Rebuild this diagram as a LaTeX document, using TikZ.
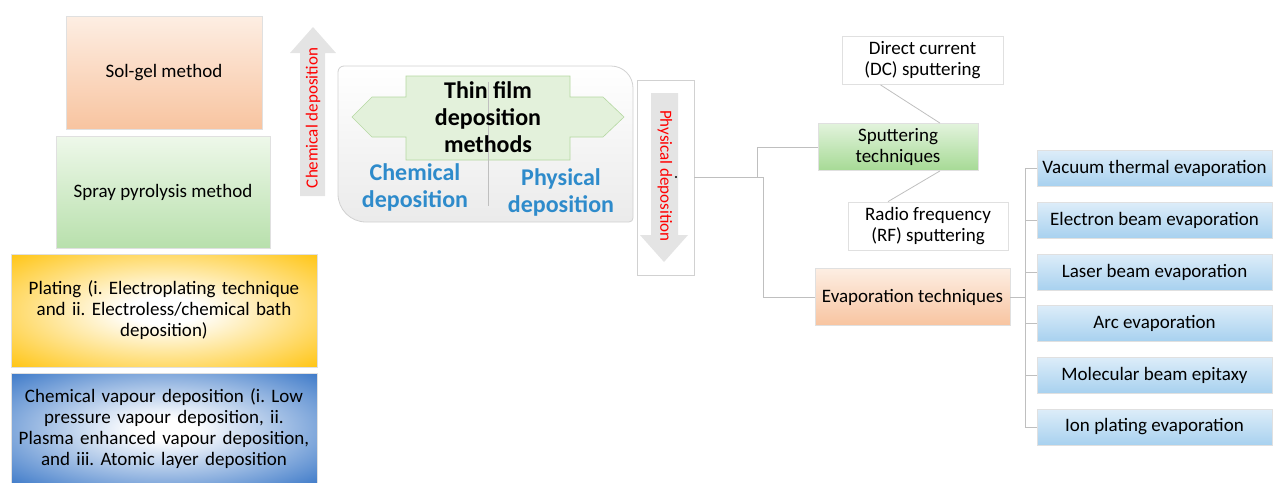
\documentclass[tikz,border=0pt]{standalone}
\usepackage{fontspec}
\setmainfont{Carlito}
\usetikzlibrary{calc}
\frenchspacing

\definecolor{peachTop}{HTML}{FDEEE3}
\definecolor{peachBot}{HTML}{F8C4A0}
\definecolor{greenTop}{HTML}{EEF8EA}
\definecolor{greenBot}{HTML}{B8E0AC}
\definecolor{goldEdge}{HTML}{FFC000}
\definecolor{blueEdge}{HTML}{2E6FC4}
\definecolor{skyTop}{HTML}{DDEDF9}
\definecolor{skyBot}{HTML}{A8D1EF}
\definecolor{sputTop}{HTML}{E2F3DC}
\definecolor{sputBot}{HTML}{A6DA95}
\definecolor{arrowGreen}{HTML}{E3F1DB}
\definecolor{arrowGreenLine}{HTML}{B5D8A2}
\definecolor{labelBlue}{HTML}{2E8BCB}
\definecolor{arrowGray}{HTML}{E4E4E4}
\definecolor{lineGray}{HTML}{BFBFBF}

% soft radial glows: white centre fading to the box colour at the rim
\pgfdeclareradialshading{goldglow}{\pgfpoint{0bp}{0bp}}{%
  color(0bp)=(white); color(6bp)=(white); color(38bp)=(goldEdge); color(50bp)=(goldEdge)}
\pgfdeclareradialshading{blueglow}{\pgfpoint{0bp}{0bp}}{%
  color(0bp)=(white); color(5bp)=(white); color(38bp)=(blueEdge); color(50bp)=(blueEdge)}

\tikzset{
  box/.style={rectangle, draw=black!12, line width=0.8pt, align=center, inner sep=1pt,
    font=\fontsize{19}{21}\selectfont},
  plainbox/.style={box, fill=white},
  evapchild/.style={box, top color=skyTop, bottom color=skyBot,
    minimum width=235pt, minimum height=36pt},
  link/.style={draw=lineGray, line width=0.8pt},
  sidetext/.style={text=red, font=\fontsize{17}{19}\selectfont},
  biglabel/.style={align=center, font=\fontsize{24}{27}\selectfont\bfseries},
}

\begin{document}
\begin{tikzpicture}[x=1pt,y=-1pt]
\useasboundingbox (0,0) rectangle (1273,482);

% ---------- chemical methods (left column) ----------
\node[box, top color=peachTop, bottom color=peachBot,
      minimum width=196pt, minimum height=113pt] (solgel) at (164,72.5) {Sol-gel method};
\node[box, top color=greenTop, bottom color=greenBot,
      minimum width=214pt, minimum height=112pt] (spray) at (163,192) {Spray pyrolysis method};
\node[box, shading=goldglow, text width=300pt,
      minimum width=306pt, minimum height=113pt] (plating) at (164,310.5)
      {Plating (i. Electroplating technique\\and ii. Electroless/chemical bath\\deposition)};
\node[box, shading=blueglow, text width=304pt,
      minimum width=306pt, minimum height=112pt] (cvd) at (164,429)
      {Chemical vapour deposition (i. Low\\pressure vapour deposition, ii.\\Plasma enhanced vapour deposition,\\and iii. Atomic layer deposition};

% upward arrow for chemical deposition
\fill[arrowGray] (300,196) -- (300,53) -- (290,53) -- (313,27) -- (336,53) -- (325,53) -- (325,196) -- cycle;
\node[sidetext, rotate=90] (chemtag) at (313,118) {Chemical deposition};

% ---------- central panel ----------
\draw[draw=black!18, line width=0.8pt, top color=white, bottom color=black!8]
  (338,150) [rounded corners=6pt] -- (338,66) [rounded corners=22pt] -- (633,66)
  [rounded corners=4pt] -- (633,222) [rounded corners=28pt] -- (338,222)
  [sharp corners] -- cycle;

\draw[fill=arrowGreen, draw=arrowGreenLine, line width=0.6pt]
  (352,117) -- (372,97) -- (406,97) -- (406,76) -- (570,76) -- (570,97) -- (603,97)
  -- (624,117) -- (603,137) -- (570,137) -- (570,160) -- (406,160) -- (406,137)
  -- (372,137) -- cycle;
\draw[black!25, line width=0.6pt] (488,82) -- (488,206);

\node[biglabel] (title) at (488,117) {Thin film\\deposition\\methods};
\node[biglabel, text=labelBlue] (chemlabel) at (415,187) {Chemical\\deposition};
\node[biglabel, text=labelBlue] (physlabel) at (561,192) {Physical\\deposition};

% ---------- physical deposition panel ----------
\node[rectangle, draw=black!18, fill=white, line width=0.8pt,
      minimum width=57pt, minimum height=195pt] (physbox) at (665.5,177.5) {};
\fill[arrowGray] (651,93) -- (678,93) -- (678,235) -- (688,235) -- (664,262) -- (640,235)
  -- (651,235) -- cycle;
\node[sidetext, rotate=-90] (phystag) at (665,176) {Physical deposition};
\fill (676,177) circle (1.2pt);

% ---------- physical techniques ----------
\node[box, top color=sputTop, bottom color=sputBot,
      minimum width=160pt, minimum height=47pt] (sput) at (898,147) {Sputtering\\techniques};
\node[plainbox, minimum width=161pt, minimum height=48pt] (dc) at (922.5,60.5)
  {Direct current\\(DC) sputtering};
\node[plainbox, minimum width=160pt, minimum height=48pt] (rf) at (928,226)
  {Radio frequency\\(RF) sputtering};
\node[box, top color=peachTop, bottom color=peachBot,
      minimum width=195pt, minimum height=57pt] (evap) at (912.5,297) {Evaporation techniques};

\coordinate (j1) at (757,177.5);
\coordinate (j2) at (763,177.5);
\coordinate (j3) at (1025,297);

\draw[link] (physbox.east) -- (j1) |- (sput.west);
\draw[link] (j1) -- (j2) |- (evap.west);
\draw[link] ([xshift=-42pt]dc.south) -- ([xshift=42pt]sput.north);
\draw[link] ([xshift=42pt]sput.south) -- ([xshift=-40pt]rf.north);

% ---------- evaporation techniques ----------
\node[evapchild] (vte) at (1154.5,168) {Vacuum thermal evaporation};
\node[evapchild] (ebe) at (1154.5,220) {Electron beam evaporation};
\node[evapchild] (lbe) at (1154.5,272) {Laser beam evaporation};
\node[evapchild] (arc) at (1154.5,323) {Arc evaporation};
\node[evapchild] (mbe) at (1154.5,375) {Molecular beam epitaxy};
\node[evapchild] (ipe) at (1154.5,427) {Ion plating evaporation};

\draw[link] (evap.east) -- (j3);
\foreach \c in {vte,ebe,lbe,arc,mbe,ipe}
  \draw[link] (j3) |- (\c.west);

\end{tikzpicture}
\end{document}
